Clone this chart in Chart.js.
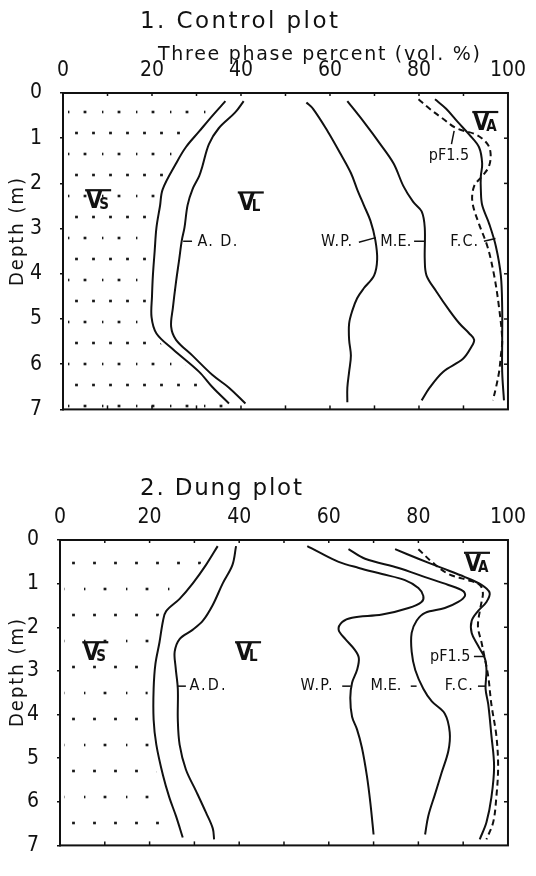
<!DOCTYPE html>
<html><head><meta charset="utf-8">
<script src="https://cdn.jsdelivr.net/npm/chart.js@4"></script>
<style>
html,body{margin:0;padding:0;background:#fff;width:536px;height:876px;overflow:hidden}
canvas{position:absolute;left:0}
</style></head><body>
<canvas id="c1" width="536" height="440" style="top:0"></canvas>
<canvas id="c2" width="536" height="436" style="top:440px"></canvas>
<script>
// ---------- tick labels ----------
const xTicks = [0, 20, 40, 60, 80, 100];
const depthTicks = [0, 1, 2, 3, 4, 5, 6, 7];

// ---------- 1. Control plot : [vol.%, depth m] ----------
const controlSolid = [[36.5,0.18],[33.6,0.5],[30.6,0.85],[27.6,1.2],[25.4,1.56],[22.4,2.13],[21.8,2.5],[21.0,2.98],[20.6,3.5],[20.2,4.04],[20.0,4.5],[19.9,4.96],[21.0,5.32],[24.7,5.67],[30.6,6.17],[33.5,6.5],[37.3,6.87]];
const controlAD = [[40.6,0.18],[38.7,0.43],[35.0,0.78],[32.8,1.13],[31.3,1.63],[30.6,1.84],[29.1,2.13],[28.0,2.48],[27.3,2.98],[26.7,3.26],[26.1,3.69],[25.4,4.18],[24.7,4.75],[24.3,5.17],[25.4,5.46],[29.1,5.81],[33.6,6.24],[37.3,6.52],[41.0,6.87]];
const controlWP = [[54.7,0.21],[56.2,0.35],[59.5,0.85],[62.4,1.35],[64.7,1.77],[66.1,2.13],[67.6,2.48],[69.1,2.83],[70.2,3.26],[70.6,3.69],[69.9,4.04],[67.6,4.32],[66.1,4.54],[65.0,4.82],[64.3,5.1],[64.3,5.46],[64.7,5.81],[64.3,6.17],[63.9,6.52],[63.9,6.84]];
const controlME = [[63.9,0.18],[67.6,0.64],[71.3,1.13],[74.3,1.56],[76.5,2.06],[78.7,2.41],[80.6,2.62],[81.3,2.98],[81.3,3.69],[81.7,4.04],[83.9,4.39],[86.9,4.82],[89.1,5.1],[91.3,5.32],[92.4,5.46],[91.7,5.63],[89.9,5.88],[85.4,6.17],[82.4,6.52],[80.6,6.8]];
const controlFC = [[83.6,0.14],[86.1,0.35],[88.7,0.64],[91.3,0.92],[93.5,1.2],[94.2,1.56],[93.9,1.84],[93.9,2.13],[94.2,2.48],[95.8,2.9],[97.3,3.4],[98.4,4.04],[98.7,4.75],[98.7,5.46],[98.7,6.17],[99.1,6.8]];
const controlPF15 = [[79.9,0.14],[82.4,0.35],[85.4,0.57],[88.4,0.78],[92.8,0.92],[95.4,1.13],[96.1,1.35],[95.7,1.63],[94.2,1.84],[92.4,2.06],[92.0,2.41],[93.5,2.9],[95.4,3.4],[96.9,4.04],[98.0,4.75],[98.7,5.46],[98.4,5.81],[98.0,6.17],[97.3,6.52],[96.6,6.8]];

// ---------- 2. Dung plot : [vol.%, depth m] ----------
const dungSolid = [[35.2,0.14],[32.6,0.57],[29.6,1.0],[26.7,1.35],[23.7,1.63],[23.0,1.85],[22.2,2.35],[21.3,2.84],[20.9,3.41],[20.9,4.12],[21.5,4.69],[23.0,5.4],[24.4,5.9],[25.9,6.33],[27.4,6.82]];
const dungAD = [[39.3,0.14],[38.5,0.57],[36.3,1.0],[34.1,1.49],[31.9,1.85],[29.6,2.06],[26.7,2.27],[25.6,2.56],[25.8,2.91],[26.3,3.41],[26.3,4.12],[26.7,4.69],[28.1,5.26],[30.4,5.76],[32.6,6.25],[34.1,6.61],[34.4,6.86]];
const dungWP = [[55.2,0.14],[57.8,0.28],[62.2,0.5],[66.7,0.64],[71.9,0.78],[77.0,0.92],[80.0,1.1],[81.1,1.28],[80.7,1.42],[77.8,1.56],[71.9,1.71],[65.2,1.78],[63.0,1.88],[62.2,2.06],[63.7,2.27],[65.6,2.49],[66.7,2.7],[66.3,2.98],[65.2,3.27],[64.8,3.62],[65.2,4.05],[66.3,4.34],[67.4,4.76],[68.5,5.4],[69.3,6.04],[70.0,6.75]];
const dungME = [[64.4,0.21],[68.1,0.43],[75.6,0.64],[81.5,0.85],[86.7,1.03],[90.0,1.17],[90.4,1.28],[88.9,1.42],[85.9,1.56],[81.5,1.67],[79.6,1.85],[78.5,2.13],[78.5,2.56],[79.3,2.98],[81.1,3.41],[83.0,3.7],[85.9,3.98],[87.0,4.41],[86.7,4.83],[85.2,5.33],[83.7,5.83],[82.2,6.33],[81.5,6.75]];
const dungFC = [[74.8,0.21],[80.0,0.43],[85.2,0.64],[90.4,0.85],[94.1,1.03],[95.9,1.21],[95.2,1.42],[93.3,1.63],[91.9,1.85],[91.9,2.13],[93.3,2.42],[94.8,2.7],[95.2,2.98],[95.0,3.41],[95.6,3.77],[96.3,4.48],[96.9,5.19],[96.3,5.9],[95.2,6.47],[93.7,6.86]];
const dungPF15 = [[80.0,0.21],[83.0,0.5],[86.7,0.78],[91.1,0.92],[93.7,1.03],[94.4,1.21],[94.1,1.42],[93.7,1.63],[93.3,1.99],[94.1,2.35],[94.8,2.7],[95.6,3.13],[96.3,3.77],[97.4,4.48],[97.8,5.19],[97.4,5.9],[96.7,6.47],[95.2,6.86]];

// ---------- styling / helpers ----------
const INK = '#111';
const TICK_FONT = {family: "'Liberation Sans Narrow','DejaVu Sans Condensed','DejaVu Sans',sans-serif", size: 21};
const TXT_FAMILY = "'DejaVu Sans Condensed','DejaVu Sans',sans-serif";
const TITLE_FAMILY = "'DejaVu Sans',sans-serif";

function fitText(ctx, text, x, y, font, width, align, minLs) {
  ctx.save();
  ctx.font = font;
  ctx.letterSpacing = '0px';
  const w = ctx.measureText(text).width;
  const n = Math.max(1, text.length - 1);
  let ls = (width - w) / n;
  if (minLs !== undefined && ls < minLs) ls = minLs;
  ctx.letterSpacing = ls.toFixed(2) + 'px';
  ctx.textAlign = 'left';
  let x0 = x;
  if (align === 'center') x0 = x - width / 2;
  ctx.fillText(text, x0, y);
  ctx.restore();
}

function dotPattern(ctx, dx, dy, oy) {
  const c = document.createElement('canvas');
  c.width = dx * 2; c.height = dy * 2;
  const g = c.getContext('2d');
  g.fillStyle = '#1a1a1a';
  const pts = [[dx * 0.5, oy], [dx * 1.5, oy], [0, oy + dy], [dx, oy + dy]];
  pts.forEach(([x, y]) => { g.fillRect(x - 1.4, (y % (dy * 2)) - 1.3, 2.8, 2.6); });
  return ctx.createPattern(c, 'repeat');
}

const framePlugin = {
  id: 'frame',
  beforeDatasetsDraw(chart) {
    const o = chart.options.plugins.frame;
    const ctx = chart.ctx, a = chart.chartArea;
    const pts = chart.getDatasetMeta(0).data;
    ctx.save();
    ctx.beginPath();
    ctx.moveTo(a.left + 4, a.top);
    ctx.lineTo(pts[0].x - 6, a.top);
    pts.forEach(p => ctx.lineTo(p.x - 6, p.y));
    ctx.lineTo(pts[pts.length - 1].x - 6, a.bottom);
    ctx.lineTo(a.left + 4, a.bottom);
    ctx.closePath();
    ctx.fillStyle = dotPattern(ctx, o.dot[0], o.dot[1], o.dot[2]);
    ctx.fill();
    ctx.restore();
  },
  afterDatasetsDraw(chart) {
    const o = chart.options.plugins.frame;
    const ctx = chart.ctx, a = chart.chartArea;
    const xs = chart.scales.x, ys = chart.scales.y;
    ctx.save();
    ctx.strokeStyle = INK; ctx.lineWidth = 2;
    ctx.strokeRect(a.left, a.top, a.right - a.left, a.bottom - a.top);
    ctx.lineWidth = 1.5;
    for (let v = 10; v < 100; v += 10) {
      const px = xs.getPixelForValue(v);
      ctx.beginPath(); ctx.moveTo(px, a.bottom); ctx.lineTo(px, a.bottom - 4); ctx.stroke();
      ctx.beginPath(); ctx.moveTo(px, a.top); ctx.lineTo(px, a.top + 3); ctx.stroke();
    }
    depthTicks.slice(1, -1).forEach(d => {
      const py = ys.getPixelForValue(d);
      ctx.beginPath(); ctx.moveTo(a.right, py); ctx.lineTo(a.right - 4, py); ctx.stroke();
    });
    ctx.lineWidth = 1.5;
    o.leaders.forEach(l => {
      ctx.beginPath();
      ctx.moveTo(xs.getPixelForValue(l[0]), ys.getPixelForValue(l[1]));
      ctx.lineTo(xs.getPixelForValue(l[2]), ys.getPixelForValue(l[3]));
      ctx.stroke();
    });
    ctx.fillStyle = INK;
    ctx.textBaseline = 'middle';
    o.labels.forEach(l => {
      fitText(ctx, l[0], xs.getPixelForValue(l[1]), ys.getPixelForValue(l[2]), '16px ' + TXT_FAMILY, l[3], 'left', 0);
    });
    o.phases.forEach(p => {
      const x = xs.getPixelForValue(p[1]), y = ys.getPixelForValue(p[2]);
      ctx.font = 'bold 23px ' + TXT_FAMILY;
      ctx.textAlign = 'left'; ctx.textBaseline = 'alphabetic';
      const w = ctx.measureText('V').width;
      ctx.fillText('V', x, y + 9);
      ctx.lineWidth = 2.2;
      ctx.beginPath(); ctx.moveTo(x - 1, y - 9); ctx.lineTo(x + w + 9, y - 9); ctx.stroke();
      ctx.font = 'bold 15px ' + TXT_FAMILY;
      ctx.fillText(p[0], x + w - 3, y + 10);
    });
    ctx.textBaseline = 'alphabetic';
    o.titles.forEach(t => fitText(ctx, t[0], t[1], t[2], t[3], t[4], 'left'));
    ctx.save();
    ctx.translate(o.depthTitle[0], o.depthTitle[1]);
    ctx.rotate(-Math.PI / 2);
    ctx.textBaseline = 'middle';
    fitText(ctx, 'Depth (m)', 0, 0, '20px ' + TXT_FAMILY, 108, 'center');
    ctx.restore();
    ctx.restore();
  }
};

function makeChart(id, series, geom, frame) {
  const ds = series.map((s, i) => ({
    data: s.pts.map(([x, y]) => ({x, y})),
    borderColor: INK,
    borderWidth: 2,
    borderDash: s.dash ? [6, 4] : [],
    pointRadius: 0,
    tension: 0.35,
    fill: false
  }));
  return new Chart(document.getElementById(id), {
    type: 'line',
    data: {datasets: ds},
    plugins: [framePlugin],
    options: {
      responsive: false,
      animation: false,
      devicePixelRatio: 1,
      indexAxis: 'y',
      layout: {autoPadding: false, padding: {left: 0, top: 0, right: geom.right, bottom: geom.bottom}},
      plugins: {legend: {display: false}, tooltip: {enabled: false}, frame},
      scales: {
        x: {
          type: 'linear', position: 'top', min: 0, max: 100,
          afterBuildTicks: a => { a.ticks = xTicks.map(v => ({value: v})); },
          afterFit: a => { a.height = geom.top; },
          ticks: {font: TICK_FONT, color: INK, padding: geom.xpad, maxRotation: 0, autoSkip: false},
          grid: {drawOnChartArea: false, drawTicks: false, color: INK},
          border: {display: true, color: INK, width: 2}
        },
        y: {
          type: 'linear', reverse: true, min: 0, max: 7,
          afterBuildTicks: a => { a.ticks = depthTicks.map(v => ({value: v})); },
          afterFit: a => { a.width = geom.left; },
          ticks: {font: TICK_FONT, color: INK, padding: 18},
          grid: {drawOnChartArea: false, drawTicks: true, tickLength: 3, color: INK, lineWidth: 1.5},
          border: {display: true, color: INK, width: 2}
        }
      }
    }
  });
}

makeChart('c1',
  [{pts: controlSolid}, {pts: controlAD}, {pts: controlWP}, {pts: controlME}, {pts: controlFC}, {pts: controlPF15, dash: true}],
  {left: 63, top: 93, right: 22, bottom: 17, xpad: 10},
  {
    dot: [17, 21, 7],
    titles: [
      ['1. Control plot', 140, 28, '23px ' + TITLE_FAMILY, 198],
      ['Three phase percent (vol. %)', 158, 60, '19px ' + TITLE_FAMILY, 322]
    ],
    depthTitle: [18, 232],
    labels: [['A. D.', 30.2, 3.3, 40], ['W.P.', 58.0, 3.3, 31], ['M.E.', 71.3, 3.3, 31], ['F.C.', 87.0, 3.3, 28], ['pF1.5', 82.2, 1.38, 40]],
    leaders: [[27.0, 3.28, 29.0, 3.28], [66.5, 3.3, 70.3, 3.2], [78.9, 3.28, 81.3, 3.28], [94.6, 3.28, 97.2, 3.22], [87.3, 1.13, 87.9, 0.84]],
    phases: [['S', 5.2, 2.35], ['L', 39.5, 2.4], ['A', 92.2, 0.62]]
  });

makeChart('c2',
  [{pts: dungSolid}, {pts: dungAD}, {pts: dungWP}, {pts: dungME}, {pts: dungFC}, {pts: dungPF15, dash: true}],
  {left: 60, top: 100, right: 26, bottom: 8, xpad: 10},
  {
    dot: [21, 26, 19],
    titles: [
      ['2. Dung plot', 140, 55, '23px ' + TITLE_FAMILY, 162]
    ],
    depthTitle: [18, 233],
    labels: [['A.D.', 28.9, 3.35, 36], ['W.P.', 53.7, 3.35, 32], ['M.E.', 69.3, 3.35, 31], ['F.C.', 85.9, 3.35, 28], ['pF1.5', 82.6, 2.67, 40]],
    leaders: [[26.3, 3.35, 28.1, 3.35], [63.0, 3.35, 64.9, 3.35], [78.3, 3.35, 79.6, 3.35], [93.3, 3.35, 95.1, 3.35], [92.4, 2.67, 94.8, 2.67]],
    phases: [['S', 5.2, 2.55], ['L', 39.3, 2.55], ['A', 90.4, 0.5]]
  });
</script>
</body></html>
